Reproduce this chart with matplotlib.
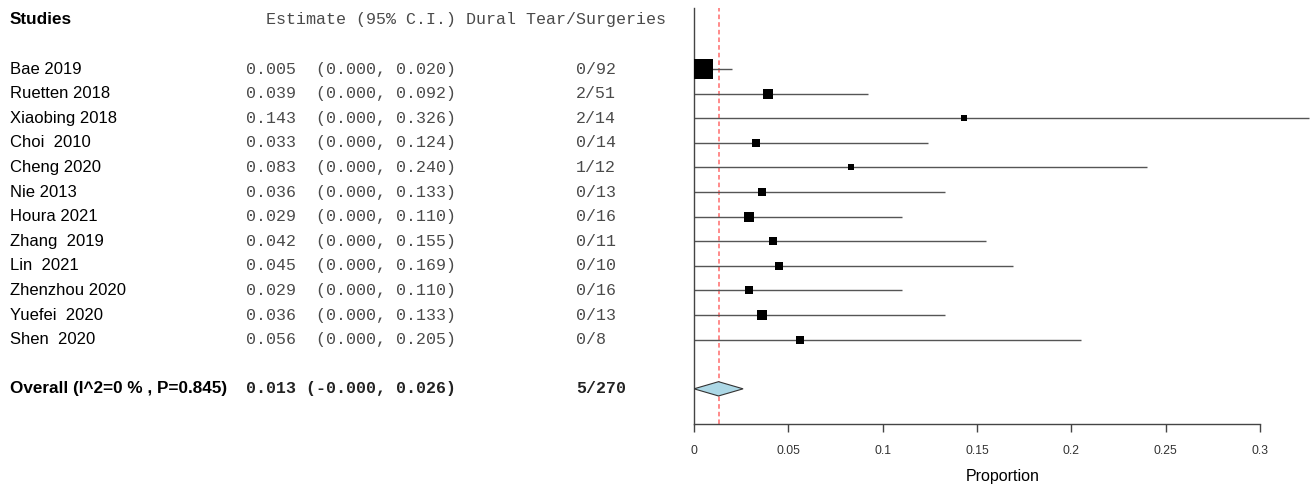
import matplotlib
matplotlib.use("Agg")
import matplotlib.pyplot as plt
from matplotlib.transforms import blended_transform_factory

studies = ["Bae 2019", "Ruetten 2018", "Xiaobing 2018", "Choi  2010", "Cheng 2020",
           "Nie 2013", "Houra 2021", "Zhang  2019", "Lin  2021", "Zhenzhou 2020",
           "Yuefei  2020", "Shen  2020"]
estimates = [0.005, 0.039, 0.143, 0.033, 0.083, 0.036, 0.029, 0.042, 0.045, 0.029, 0.036, 0.056]
ci_low = [0.000] * 12
ci_high = [0.020, 0.092, 0.326, 0.124, 0.240, 0.133, 0.110, 0.155, 0.169, 0.110, 0.133, 0.205]
events = ["0/92", "2/51", "2/14", "0/14", "1/12", "0/13", "0/16", "0/11", "0/10", "0/16", "0/13", "0/8"]
weights = [18.5, 9.2, 5.5, 8.0, 5.5, 7.7, 8.3, 7.1, 7.1, 8.0, 8.3, 6.7]  # relative weight (%)

overall_label = "Overall (I^2=0 % , P=0.845)"
overall_est, overall_low, overall_high = 0.013, -0.000, 0.026
overall_events = "5/270"
xticks = [0, 0.05, 0.1, 0.15, 0.2, 0.25, 0.3]
xtick_labels = ["0", "0.05", "0.1", "0.15", "0.2", "0.25", "0.3"]

W, H = 1312, 488
fig = plt.figure(figsize=(W / 100, H / 100), dpi=100)
ax = fig.add_axes([694 / W, 64 / H, (W - 694) / W, 416 / H])

n = len(studies)
rows = list(range(n))
overall_row = n + 1
header_row = -2

ax.set_xlim(0, (W - 694) / 1887)
ax.set_ylim(14.43, -2.48)

line_col = "#555555"
for r, lo, hi in zip(rows, ci_low, ci_high):
    ax.plot([lo, hi], [r, r], color=line_col, lw=1.0, solid_capstyle="butt", zorder=2)
for r, est, w in zip(rows, estimates, weights):
    ax.plot([est], [r], marker="s", color="black", markersize=w * 1.1 * 0.72,
            markeredgewidth=0, linestyle="none", zorder=3)

h = 0.29
ax.fill([overall_low, overall_est, overall_high, overall_est],
        [overall_row, overall_row - h, overall_row, overall_row + h],
        facecolor="#add8e6", edgecolor="#333333", lw=0.8, zorder=3)

ax.axvline(overall_est, color="#ff6b6b", lw=1.1, linestyle=(0, (3, 2)), zorder=1)

for s in ["top", "right"]:
    ax.spines[s].set_visible(False)
ax.spines["left"].set_color("#444444")
ax.spines["left"].set_linewidth(1.0)
ax.spines["bottom"].set_color("#444444")
ax.spines["bottom"].set_linewidth(1.0)
ax.spines["bottom"].set_bounds(0, 0.3)
ax.set_yticks([])
ax.set_xticks(xticks)
ax.set_xticklabels(xtick_labels, fontsize=8.7, color="#333333", family="Liberation Sans")
ax.tick_params(axis="x", length=6, width=1.0, color="#444444", pad=9)
ax.set_xlabel("Proportion", fontsize=11.5, family="Liberation Sans", labelpad=9)

tr = blended_transform_factory(fig.transFigure, ax.transData)
sans = "Liberation Sans"
mono = "Liberation Mono"
mono_col = "#4a4a4a"

fig.text(10 / W, header_row, "Studies", transform=tr, fontsize=12.3, family=sans,
         weight="bold", va="center", ha="left")
fig.text(456 / W, header_row, "Estimate (95% C.I.)", transform=tr, fontsize=12, family=mono,
         color=mono_col, va="center", ha="right")
fig.text(466 / W, header_row, "Dural Tear/Surgeries", transform=tr, fontsize=12, family=mono,
         color=mono_col, va="center", ha="left")

for r, name, est, lo, hi, ev in zip(rows, studies, estimates, ci_low, ci_high, events):
    fig.text(10 / W, r, name, transform=tr, fontsize=12, family=sans, va="center", ha="left")
    fig.text(456 / W, r, f"{est:.3f}  ({lo:.3f}, {hi:.3f})", transform=tr, fontsize=12,
             family=mono, color=mono_col, va="center", ha="right")
    fig.text(576 / W, r, ev, transform=tr, fontsize=12, family=mono, color=mono_col,
             va="center", ha="left")

fig.text(10 / W, overall_row, overall_label, transform=tr, fontsize=12.3, family=sans,
         weight="bold", va="center", ha="left")
fig.text(456 / W, overall_row, "0.013 (-0.000, 0.026)", transform=tr, fontsize=12,
         family=mono, weight="bold", color="#222222", va="center", ha="right")
fig.text(576 / W, overall_row, overall_events, transform=tr, fontsize=12, family=mono,
         weight="bold", color="#222222", va="center", ha="left")

fig.savefig("out.png", dpi=100)
